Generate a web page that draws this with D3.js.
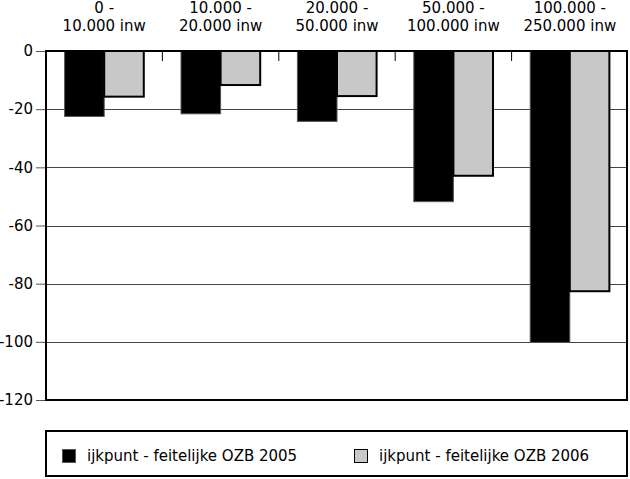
<!DOCTYPE html>
<html lang="nl">
<head>
  <meta charset="UTF-8">
  <title>ijkpunt - feitelijke OZB</title>
  <script src="https://d3js.org/d3.v7.min.js"></script>
  <style>
    body { margin: 0; background: #fff; }
    svg text { font-family: "DejaVu Sans", Arial, sans-serif; font-size: 15px; fill: #000; }
  </style>
</head>
<body>
<div id="chart"></div>
<script>
  // data
  var categories = ["c1", "c2", "c3", "c4", "c5"];
  var catLine1 = ["0 -", "10.000 -", "20.000 -", "50.000 -", "100.000 -"];
  var catLine2 = ["10.000 inw", "20.000 inw", "50.000 inw", "100.000 inw", "250.000 inw"];
  var series = ["ijkpunt - feitelijke OZB 2005", "ijkpunt - feitelijke OZB 2006"];
  var values2005 = [-22.5, -21.6, -24.2, -51.8, -100.2];
  var values2006 = [-15.7, -11.7, -15.5, -42.9, -82.6];
  var yTicks = [0, -20, -40, -60, -80, -100, -120];

  var fills = ["#000000", "#c8c8c8"];
  var strokes = ["#555555", "#000000"];
  var strokeW = [1, 2];

  var W = 630, H = 479;
  var pL = 46, pR = 628, pT = 51, pB = 400;

  var svg = d3.select("#chart").append("svg")
    .attr("width", W).attr("height", H);

  var x = d3.scaleBand().domain(categories).range([pL, pR]);
  var xs = d3.scaleBand().domain(series).range([0, x.bandwidth()]).paddingOuter(0.47);
  var y = d3.scaleLinear().domain([-120, 0]).range([pB, pT]);

  // gridlines
  svg.append("g").selectAll("line")
    .data(yTicks.filter(function(d) { return d < 0 && d > -120; }))
    .join("line")
    .attr("x1", pL).attr("x2", pR)
    .attr("y1", function(d) { return Math.round(y(d)) + 0.5; })
    .attr("y2", function(d) { return Math.round(y(d)) + 0.5; })
    .attr("stroke", "#444").attr("stroke-width", 1);

  // bars
  var rows = categories.map(function(c, i) {
    return [{ cat: c, s: 0, v: values2005[i] }, { cat: c, s: 1, v: values2006[i] }];
  });
  svg.append("g").selectAll("g")
    .data(rows)
    .join("g")
    .selectAll("rect")
    .data(function(d) { return d; })
    .join("rect")
    .attr("x", function(d) { return x(d.cat) + xs(series[d.s]); })
    .attr("y", y(0))
    .attr("width", xs.bandwidth())
    .attr("height", function(d) { return y(d.v) - y(0); })
    .attr("fill", function(d) { return fills[d.s]; })
    .attr("stroke", function(d) { return strokes[d.s]; })
    .attr("stroke-width", function(d) { return strokeW[d.s]; });

  // category ticks at the top
  svg.append("g").selectAll("line")
    .data(categories.slice(1))
    .join("line")
    .attr("x1", function(d) { return x(d); })
    .attr("x2", function(d) { return x(d); })
    .attr("y1", pT).attr("y2", pT + 10)
    .attr("stroke", "#000").attr("stroke-width", 1);

  // y axis
  var yAxis = svg.append("g")
    .attr("transform", "translate(" + pL + ",0)")
    .call(d3.axisLeft(y).tickValues(yTicks).tickSize(10).tickPadding(3)
      .tickFormat(function(d) { return String(d); }));
  yAxis.select(".domain").remove();
  yAxis.selectAll(".tick line").attr("stroke", "#555");
  yAxis.selectAll(".tick text").attr("font-size", null).attr("font-family", null);

  // frame
  svg.append("rect")
    .attr("x", pL).attr("y", pT)
    .attr("width", pR - pL - 1).attr("height", pB - pT)
    .attr("fill", "none").attr("stroke", "#000").attr("stroke-width", 2);

  // category labels
  var lab = svg.append("g").selectAll("text")
    .data(categories)
    .join("text")
    .attr("text-anchor", "middle")
    .attr("x", function(d) { return x(d) + x.bandwidth() / 2; });
  lab.append("tspan")
    .attr("x", function(d) { return x(d) + x.bandwidth() / 2; })
    .attr("y", 13)
    .text(function(d, i) { return catLine1[i]; });
  lab.append("tspan")
    .attr("x", function(d) { return x(d) + x.bandwidth() / 2; })
    .attr("y", 31)
    .text(function(d, i) { return catLine2[i]; });

  // legend
  var lg = svg.append("g");
  lg.append("rect")
    .attr("x", 46).attr("y", 431)
    .attr("width", 581).attr("height", 45)
    .attr("fill", "#fff").attr("stroke", "#000").attr("stroke-width", 2);
  var legX = [62, 354];
  var items = lg.selectAll("g.item")
    .data(series)
    .join("g")
    .attr("class", "item")
    .attr("transform", function(d, i) { return "translate(" + legX[i] + ",449)"; });
  items.append("rect")
    .attr("x", 0.5).attr("y", 0.5)
    .attr("width", 13).attr("height", 13)
    .attr("fill", function(d, i) { return fills[i]; })
    .attr("stroke", function(d, i) { return strokes[i]; })
    .attr("stroke-width", 1);
  items.append("text")
    .attr("x", 25).attr("y", 12)
    .text(function(d) { return d; });
</script>
</body>
</html>
